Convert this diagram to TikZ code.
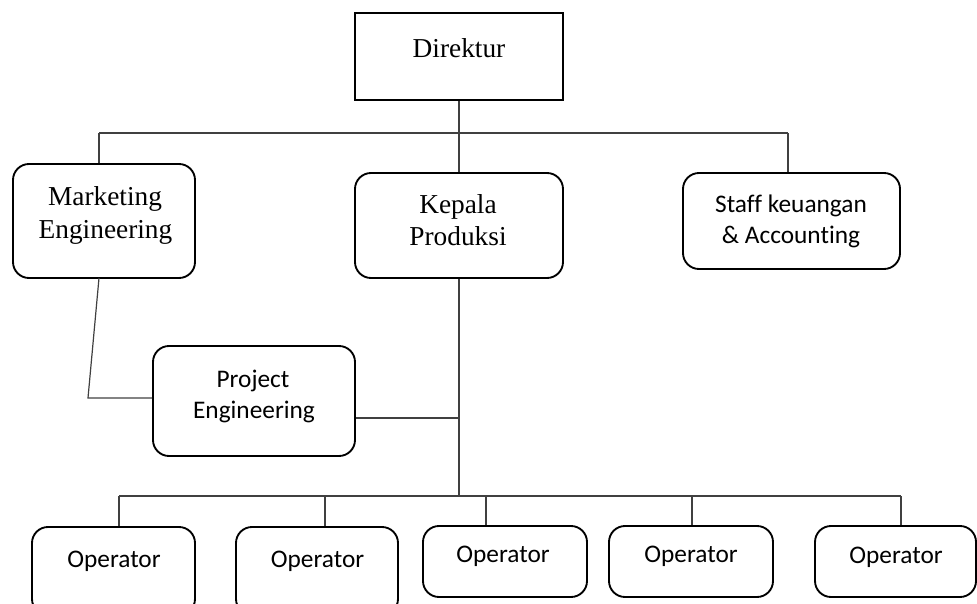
\documentclass[tikz,border=0pt]{standalone}
\usepackage{fontspec}
\setmainfont{Liberation Serif}
\newfontfamily\calib[Ligatures=NoCommon]{Carlito}
\def\u{0.75pt}
\tikzset{
  box/.style={draw=black, line width=1.4pt, rounded corners=12pt, inner sep=0pt},
  sqbox/.style={draw=black, line width=1.4pt, inner sep=0pt},
  conn/.style={draw=black!75, line width=0.9pt},
  serif/.style={font=\fontsize{20.5pt}{24pt}\selectfont, anchor=base, inner sep=0pt},
  sans/.style={font=\calib\fontsize{19pt}{23pt}\selectfont, anchor=base, inner sep=0pt},
}
\begin{document}
\begin{tikzpicture}[x=0.75pt, y=-0.75pt]
\useasboundingbox (0,0) rectangle (977,603);
\clip (0,0) rectangle (977,603);
% boxes
\node[sqbox, minimum width=208*\u, minimum height=87*\u] (dir) at (459,56.5) {};
\node[box, minimum width=182*\u, minimum height=114*\u] (mkt) at (104,221) {};
\node[box, minimum width=208*\u, minimum height=105*\u] (kep) at (459,225.5) {};
\node[box, minimum width=217*\u, minimum height=96*\u] (staff) at (791.5,221) {};
\node[box, minimum width=202*\u, minimum height=110*\u] (proj) at (254,401) {};
\node[box, minimum width=163*\u, minimum height=88*\u] (op1) at (113.5,571) {};
\node[box, minimum width=162*\u, minimum height=88*\u] (op2) at (317,571) {};
\node[box, minimum width=164*\u, minimum height=71*\u] (op3) at (505,561.5) {};
\node[box, minimum width=164*\u, minimum height=71*\u] (op4) at (691,561.5) {};
\node[box, minimum width=161*\u, minimum height=71*\u] (op5) at (895.5,561.5) {};
% labels
\node[serif] (tdir) at (459,57) {Direktur};
\node[serif] (tmkt1) at (105,205) {Marketing};
\node[serif] (tmkt2) at (105.5,238) {Engineering};
\node[serif] (tkep1) at (458,213) {Kepala};
\node[serif] (tkep2) at (458,245) {Produksi};
\node[sans] (tstaff1) at (791,212) {Staff keuangan};
\node[sans] (tstaff2) at (791,243) {\& Accounting};
\node[sans] (tproj1) at (253,387) {Project};
\node[sans] (tproj2) at (254,418) {Engineering};
\node[sans] (top1) at (114,567) {Operator};
\node[sans] (top2) at (317.5,567) {Operator};
\node[sans] (top3) at (503,562) {Operator};
\node[sans] (top4) at (691,562) {Operator};
\node[sans] (top5) at (896,563) {Operator};
% connector points
\coordinate (bl) at (99,133);
\coordinate (br) at (788,133);
\coordinate (mb) at (99,278);
\coordinate (pk) at (88,398);
\coordinate (d1) at (119,496);
\coordinate (d2) at (325,496);
\coordinate (d3) at (486,496);
\coordinate (d4) at (692,496);
\coordinate (d5) at (901,496);
% connectors
\draw[conn] (dir.south) -- (kep.north);
\draw[conn] (bl) -- (br);
\draw[conn] (bl) -- (bl |- mkt.north);
\draw[conn] (br) -- (br |- staff.north);
\draw[conn] (mb) -- (pk) -- (pk -| proj.west);
\draw[conn] (kep.south) -- (kep.south |- d1);
\draw[conn] (proj.east |- 0,418) -- (kep.south |- 0,418);
\draw[conn] (d1) -- (d5);
\draw[conn] (d1) -- (d1 |- op1.north);
\draw[conn] (d2) -- (d2 |- op2.north);
\draw[conn] (d3) -- (d3 |- op3.north);
\draw[conn] (d4) -- (d4 |- op4.north);
\draw[conn] (d5) -- (d5 |- op5.north);
\end{tikzpicture}
\end{document}
